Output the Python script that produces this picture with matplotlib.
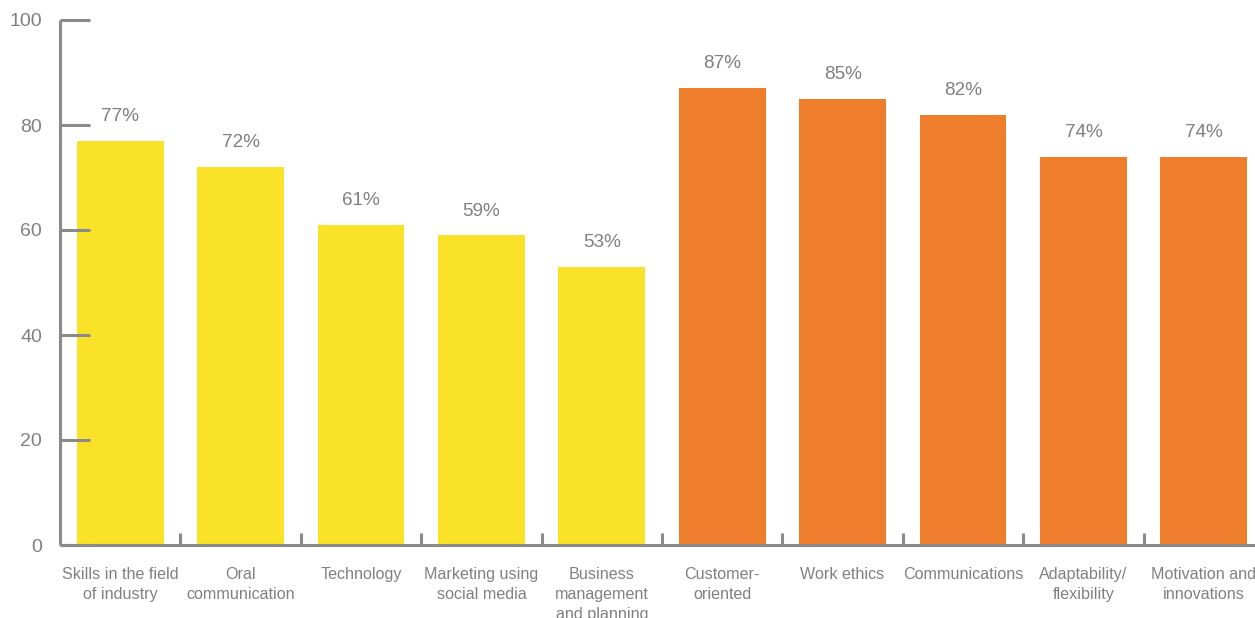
import matplotlib.pyplot as plt
import numpy as np

plt.rcParams['font.family'] = ['Liberation Sans', 'DejaVu Sans']

skills = ['Skills in the field\nof industry', 'Oral\ncommunication', 'Technology',
          'Marketing using\nsocial media', 'Business\nmanagement\nand planning',
          'Customer-\noriented', 'Work ethics', 'Communications',
          'Adaptability/\nflexibility', 'Motivation and\ninnovations']
percent = [77, 72, 61, 59, 53, 87, 85, 82, 74, 74]
colors = ['#F9E227'] * 5 + ['#EE7D2C'] * 5

grey = '#8a8a8c'
txt = '#808080'

fig = plt.figure(figsize=(12.55, 6.18), dpi=100)
ax = fig.add_axes([60 / 1255, 73 / 618, 1.0 - 60 / 1255, 525 / 618])

x = np.arange(len(percent))
ax.bar(x, percent, width=0.72, color=colors)
for xi, p in zip(x, percent):
    ax.text(xi, p + 3.0, f'{p}%', ha='center', va='bottom', fontsize=13.6, color=txt)

ax.set_xlim(-0.5, 9.425)
ax.set_ylim(0, 100)

for s in ['top', 'right']:
    ax.spines[s].set_visible(False)
for s in ['left', 'bottom']:
    ax.spines[s].set_color(grey)
    ax.spines[s].set_linewidth(2.2)
    ax.spines[s].set_capstyle('butt')

ax.set_yticks([0, 20, 40, 60, 80, 100])
ax.tick_params(axis='y', direction='in', length=21.6, width=2.2, color=grey,
               labelcolor=txt, labelsize=14, pad=13)

ax.set_xticks(x)
ax.set_xticklabels(skills, fontsize=11.6, color=txt, linespacing=1.4)
ax.set_xticks(x[:-1] + 0.5, minor=True)
ax.tick_params(axis='x', which='major', length=0, pad=16)
ax.tick_params(axis='x', which='minor', direction='in', length=8.6, width=2.2, color=grey)

fig.savefig('out.png', dpi=100)
